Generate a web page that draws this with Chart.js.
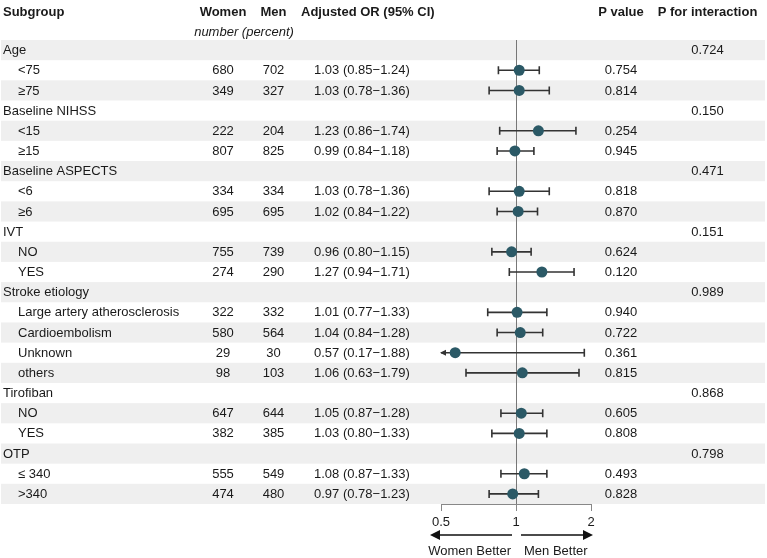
<!DOCTYPE html>
<html>
<head>
<meta charset="utf-8">
<script src="https://cdn.jsdelivr.net/npm/chart.js@4/dist/chart.umd.min.js"></script>
<style>
  html, body { margin: 0; padding: 0; background: #fff; }
  #wrap { width: 767px; height: 558px; position: relative; }
</style>
</head>
<body>
<div id="wrap"><canvas id="forest" width="767" height="558"></canvas></div>
<script>
// Rows of the table (group headers have no numbers)
const labels = ['Age', '<75', '\u226575', 'Baseline NIHSS', '<15', '\u226515', 'Baseline ASPECTS', '<6', '\u22656',
    'IVT', 'NO', 'YES', 'Stroke etiology', 'Large artery atherosclerosis', 'Cardioembolism', 'Unknown', 'others',
    'Tirofiban', 'NO', 'YES', 'OTP', '\u2264 340', '>340'];
const isGroup = [true, false, false, true, false, false, true, false, false,
    true, false, false, true, false, false, false, false,
    true, false, false, true, false, false];
const women = [null, 680, 349, null, 222, 807, null, 334, 695, null, 755, 274, null, 322, 580, 29, 98, null, 647, 382, null, 555, 474];
const men = [null, 702, 327, null, 204, 825, null, 334, 695, null, 739, 290, null, 332, 564, 30, 103, null, 644, 385, null, 549, 480];
const orValues = [null, 1.03, 1.03, null, 1.23, 0.99, null, 1.03, 1.02, null, 0.96, 1.27, null, 1.01, 1.04, 0.57, 1.06, null, 1.05, 1.03, null, 1.08, 0.97];
const ciLow = [null, 0.85, 0.78, null, 0.86, 0.84, null, 0.78, 0.84, null, 0.80, 0.94, null, 0.77, 0.84, 0.17, 0.63, null, 0.87, 0.80, null, 0.87, 0.78];
const ciHigh = [null, 1.24, 1.36, null, 1.74, 1.18, null, 1.36, 1.22, null, 1.15, 1.71, null, 1.33, 1.28, 1.88, 1.79, null, 1.28, 1.33, null, 1.33, 1.23];
const pValues = [null, '0.754', '0.814', null, '0.254', '0.945', null, '0.818', '0.870', null, '0.624', '0.120', null, '0.940', '0.722', '0.361', '0.815', null, '0.605', '0.808', null, '0.493', '0.828'];
const pInteraction = ['0.724', null, null, '0.150', null, null, '0.471', null, null, '0.151', null, null, '0.989', null, null, null, null, '0.868', null, null, '0.798', null, null];
const xTicks = [0.5, 1, 2];

const FONT = '"Liberation Sans", Arial, sans-serif';
const TEXT = '#1a1a1a';

function fmtOR(i) {
    return orValues[i].toFixed(2) + ' (' + ciLow[i].toFixed(2) + '\u2212' + ciHigh[i].toFixed(2) + ')';
}

// Table text, bands, whiskers, reference line and the arrows under the axis
const forestTable = {
    id: 'forestTable',
    beforeDraw(chart) {
        const { ctx, scales: { x, y } } = chart;
        ctx.save();
        ctx.fillStyle = '#efefef';
        labels.forEach((_, i) => {
            if (i % 2 !== 0) return;
            const top = y.getPixelForValue(i - 0.5);
            const bot = y.getPixelForValue(i + 0.5);
            ctx.fillRect(1, top, 764, bot - top);
        });
        ctx.restore();
    },
    beforeDatasetsDraw(chart) {
        const { ctx, chartArea, scales: { x, y } } = chart;
        ctx.save();
        // reference line at OR = 1
        ctx.strokeStyle = '#777';
        ctx.lineWidth = 1;
        const x1 = Math.round(x.getPixelForValue(1)) + 0.5;
        ctx.beginPath();
        ctx.moveTo(x1, chartArea.top);
        ctx.lineTo(x1, chartArea.bottom);
        ctx.stroke();

        // confidence intervals
        ctx.strokeStyle = '#333';
        ctx.fillStyle = '#333';
        ctx.lineWidth = 1.6;
        labels.forEach((_, i) => {
            if (orValues[i] === null) return;
            const yy = y.getPixelForValue(i);
            const lowClipped = ciLow[i] < x.min;
            const xl = x.getPixelForValue(Math.max(ciLow[i], x.min));
            const xh = x.getPixelForValue(Math.min(ciHigh[i], x.max));
            ctx.beginPath();
            ctx.moveTo(xl, yy);
            ctx.lineTo(xh, yy);
            ctx.moveTo(xh, yy - 4);
            ctx.lineTo(xh, yy + 4);
            if (!lowClipped) {
                ctx.moveTo(xl, yy - 4);
                ctx.lineTo(xl, yy + 4);
            }
            ctx.stroke();
            if (lowClipped) {
                ctx.beginPath();
                ctx.moveTo(xl - 1, yy);
                ctx.lineTo(xl + 5, yy - 3);
                ctx.lineTo(xl + 5, yy + 3);
                ctx.closePath();
                ctx.fill();
            }
        });
        ctx.restore();
    },
    afterDraw(chart) {
        const { ctx, chartArea, scales: { x, y } } = chart;
        ctx.save();
        ctx.fillStyle = TEXT;
        ctx.textBaseline = 'middle';

        // header
        ctx.font = 'bold 13px ' + FONT;
        ctx.textAlign = 'left';
        ctx.fillText('Subgroup', 3, 12);
        ctx.fillText('Adjusted OR (95% CI)', 301, 12);
        ctx.textAlign = 'center';
        ctx.fillText('Women', 223, 12);
        ctx.fillText('Men', 273.5, 12);
        ctx.fillText('P value', 621, 12);
        ctx.fillText('P for interaction', 707.5, 12);
        ctx.font = 'italic 13px ' + FONT;
        ctx.fillText('number (percent)', 244, 32);

        // rows
        ctx.font = '13px ' + FONT;
        labels.forEach((lab, i) => {
            const yy = y.getPixelForValue(i) + 0.5;
            ctx.textAlign = 'left';
            ctx.fillText(lab, isGroup[i] ? 3 : 18, yy);
            if (women[i] !== null) {
                ctx.textAlign = 'center';
                ctx.fillText(String(women[i]), 223, yy);
                ctx.fillText(String(men[i]), 273.5, yy);
                ctx.fillText(pValues[i], 621, yy);
                ctx.textAlign = 'left';
                ctx.fillText(fmtOR(i), 314, yy);
            }
            if (pInteraction[i] !== null) {
                ctx.textAlign = 'center';
                ctx.fillText(pInteraction[i], 707.5, yy);
            }
        });

        // direction arrows
        const xOne = x.getPixelForValue(1);
        const ay = 535;
        ctx.strokeStyle = '#111';
        ctx.fillStyle = '#111';
        ctx.lineWidth = 1.5;
        ctx.beginPath();
        ctx.moveTo(xOne - 4, ay);
        ctx.lineTo(chartArea.left - 2, ay);
        ctx.moveTo(xOne + 5, ay);
        ctx.lineTo(chartArea.right - 6, ay);
        ctx.stroke();
        ctx.beginPath();
        ctx.moveTo(chartArea.left - 11, ay);
        ctx.lineTo(chartArea.left - 1, ay - 5);
        ctx.lineTo(chartArea.left - 1, ay + 5);
        ctx.closePath();
        ctx.fill();
        ctx.beginPath();
        ctx.moveTo(chartArea.right + 2, ay);
        ctx.lineTo(chartArea.right - 8, ay - 5);
        ctx.lineTo(chartArea.right - 8, ay + 5);
        ctx.closePath();
        ctx.fill();

        ctx.fillStyle = TEXT;
        ctx.font = '13px ' + FONT;
        ctx.textAlign = 'right';
        ctx.fillText('Women Better', xOne - 5, 551);
        ctx.textAlign = 'left';
        ctx.fillText('Men Better', xOne + 8, 551);
        ctx.restore();
    }
};

const points = labels.map((_, i) => orValues[i] === null ? null : { x: orValues[i], y: i }).filter(p => p);

new Chart(document.getElementById('forest'), {
    type: 'scatter',
    data: {
        datasets: [{
            data: points,
            pointRadius: 5.5,
            pointHoverRadius: 5.5,
            pointBackgroundColor: '#2b5966',
            pointBorderColor: '#2b5966',
            pointBorderWidth: 0
        }]
    },
    options: {
        responsive: false,
        animation: false,
        events: [],
        layout: { padding: { left: 441, right: 176, top: 40, bottom: 30 } },
        plugins: { legend: { display: false }, tooltip: { enabled: false } },
        scales: {
            x: {
                type: 'logarithmic',
                min: 0.5,
                max: 2,
                afterBuildTicks(scale) {
                    scale.ticks = xTicks.map(v => ({ value: v }));
                },
                afterFit(scale) {
                    scale.height = 24;
                },
                grid: { drawOnChartArea: false, drawTicks: true, tickLength: 7, color: '#888' },
                border: { display: true, color: '#888', width: 1 },
                ticks: {
                    color: TEXT,
                    padding: 4,
                    maxRotation: 0,
                    autoSkip: false,
                    font: { family: FONT, size: 13 },
                    callback: v => String(v)
                }
            },
            y: {
                type: 'linear',
                display: false,
                reverse: true,
                min: -0.5,
                max: labels.length - 0.5
            }
        }
    },
    plugins: [forestTable]
});
</script>
</body>
</html>
